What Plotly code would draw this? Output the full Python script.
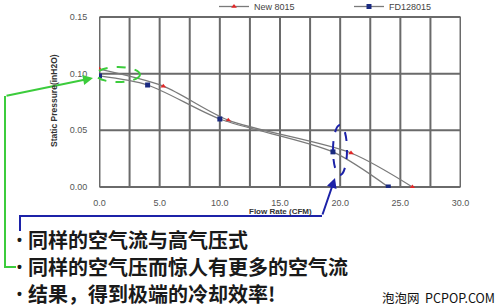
import plotly.graph_objects as go

# Data
new_x = [0.0, 5.3, 10.7, 20.9, 26.0]
new_y = [0.104, 0.089, 0.059, 0.030, 0.0]
fd_x = [0.0, 4.0, 10.0, 19.4, 24.0]
fd_y = [0.098, 0.090, 0.060, 0.031, 0.0]
x_ticks = [0, 2.5, 5, 7.5, 10, 12.5, 15, 17.5, 20, 22.5, 25, 27.5, 30]
x_tick_text = ["0.0", "", "5.0", "", "10.0", "", "15.0", "", "20.0", "", "25.0", "", "30.0"]
y_ticks = [0, 0.05, 0.10, 0.15]
y_tick_text = ["0.00", "0.05", "0.10", "0.15"]
bullets = ["同样的空气流与高气压式", "同样的空气压而惊人有更多的空气流", "结果，得到极端的冷却效率!"]

W, H = 500, 307
def px(x): return x / W
def py(y): return 1 - y / H

grid = "#6a6a6a"
fig = go.Figure()
# grid lines, one trace per line, drawn through the axes' scales from the tick lists
for v in x_ticks:
    fig.add_trace(go.Scatter(x=[v, v, v], y=[y_ticks[0], (y_ticks[0] + y_ticks[-1]) / 2, y_ticks[-1]],
                             mode="lines", line=dict(color=grid, width=2, simplify=False),
                             showlegend=False, hoverinfo="skip", cliponaxis=False))
for v in y_ticks:
    fig.add_trace(go.Scatter(x=[x_ticks[0], x_ticks[-1]], y=[v, v], mode="lines",
                             line=dict(color=grid, width=2, simplify=False),
                             showlegend=False, hoverinfo="skip", cliponaxis=False))

fig.add_trace(go.Scatter(x=new_x, y=new_y, name="New 8015", mode="lines+markers",
                         line=dict(color="#7a7a7a", width=1.3, shape="spline", smoothing=0.8),
                         marker=dict(symbol="triangle-up", size=5, color="#e02828")))
fig.add_trace(go.Scatter(x=fd_x, y=fd_y, name="FD128015", mode="lines+markers",
                         line=dict(color="#7a7a7a", width=1.3, shape="spline", smoothing=0.8),
                         marker=dict(symbol="square", size=5, color="#1a2a80")))

fig.update_layout(
    template="none",
    width=W, height=H, margin=dict(l=0, r=0, t=0, b=0, autoexpand=False),
    paper_bgcolor="white", plot_bgcolor="white",
    font=dict(family="Liberation Sans, Arial, sans-serif", size=9, color="#555"),
    xaxis=dict(domain=[px(99), px(461)], range=[-0.04, 30.04], tickmode="array",
               tickvals=x_ticks, ticktext=x_tick_text,
               showgrid=False, zeroline=False, automargin=False, showline=False,
               ticks="outside", ticklen=6, tickcolor="rgba(0,0,0,0)"),
    yaxis=dict(domain=[py(188), py(16)], range=[-0.0009, 0.1509], tickmode="array",
               tickvals=y_ticks, ticktext=y_tick_text,
               showgrid=False, zeroline=False, automargin=False, showline=False,
               ticks="outside", ticklen=9, tickcolor="rgba(0,0,0,0)"),
    legend=dict(orientation="h", x=px(214), y=1 + 8 / H, xanchor="left", yanchor="top",
                font=dict(size=9, color="#444"), bgcolor="rgba(0,0,0,0)", entrywidth=90,
                entrywidthmode="pixels", itemwidth=30),
    showlegend=True,
)

green = "#3ccc3c"
blue = "#1c22a8"
shapes = [
    dict(type="circle", xref="paper", yref="paper", x0=px(96), x1=px(140), y0=py(82), y1=py(67),
         line=dict(color=green, width=2, dash="dash")),
    dict(type="circle", xref="paper", yref="paper", x0=px(333), x1=px(347), y0=py(175), y1=py(125),
         line=dict(color=blue, width=2, dash="dash")),
    dict(type="path", xref="paper", yref="paper",
         path=f"M {px(5)},{py(96)} L {px(5)},{py(267)} L {px(16)},{py(267)}",
         line=dict(color=green, width=2)),
    dict(type="path", xref="paper", yref="paper",
         path=f"M {px(20)},{py(231)} L {px(20)},{py(216)} L {px(322)},{py(216)}",
         line=dict(color=blue, width=2)),
]
fig.update_layout(shapes=shapes)

ann = [
    dict(x=px(93), y=py(78), ax=5 - 93, ay=96 - 78, xref="paper", yref="paper",
         showarrow=True, arrowhead=2, arrowsize=1, arrowwidth=2, arrowcolor=green, text=""),
    dict(x=px(335), y=py(178), ax=322 - 335, ay=216 - 178, xref="paper", yref="paper",
         showarrow=True, arrowhead=2, arrowsize=1, arrowwidth=2, arrowcolor=blue, text=""),
    dict(x=px(280), y=py(211), xref="paper", yref="paper", showarrow=False,
         xanchor="center", yanchor="middle",
         text="<b>Flow Rate (CFM)</b>", font=dict(size=8, color="#333")),
    dict(x=px(54), y=py(101), xref="paper", yref="paper", showarrow=False, textangle=-90,
         xanchor="center", yanchor="middle",
         text="<b>Static Pressure(inH2O)</b>", font=dict(size=8.5, color="#333")),
    dict(x=px(438), y=py(297), xref="paper", yref="paper", showarrow=False,
         xanchor="center", yanchor="middle",
         text="泡泡网  PCPOP.COM", font=dict(family="Noto Sans CJK SC", size=12.5, color="#111")),
]
for t, yy in zip(bullets, [239, 266, 293]):
    ann.append(dict(x=px(19.5), y=py(yy + 1), xref="paper", yref="paper", showarrow=False,
                    xanchor="center", yanchor="middle", text="<b>•</b>",
                    font=dict(family="Liberation Sans", size=14, color="#1a1a1a")))
    ann.append(dict(x=px(26), y=py(yy), xref="paper", yref="paper", showarrow=False,
                    xanchor="left", yanchor="middle", text="<b>" + t + "</b>",
                    font=dict(family="Noto Sans CJK SC", size=20, color="#1a1a1a")))
fig.update_layout(annotations=ann)

fig.write_html("out.html")
